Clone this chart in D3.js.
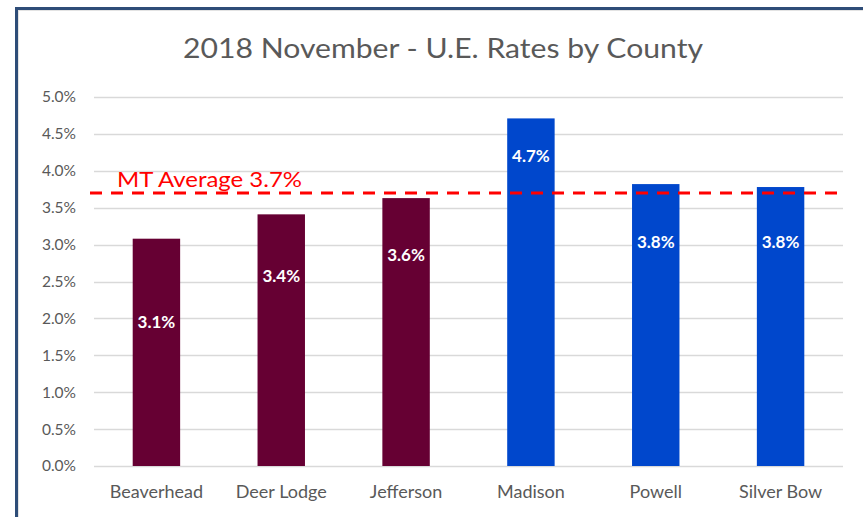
<!DOCTYPE html>
<html>
<head>
<meta charset="utf-8">
<script src="https://cdn.jsdelivr.net/npm/d3@7/dist/d3.min.js"></script>
<style>
  html, body { margin: 0; padding: 0; background: #fff; }
  svg { display: block; }
</style>
</head>
<body>
<svg id="chart" width="863" height="517"></svg>
<script>
// ---- data ----
const counties = ["Beaverhead", "Deer Lodge", "Jefferson", "Madison", "Powell", "Silver Bow"];
const rates = [3.08, 3.41, 3.63, 4.71, 3.82, 3.78];
const barColors = ["#660033", "#660033", "#660033", "#0047CC", "#0047CC", "#0047CC"];
const labelAt = [1.95, 2.57, 2.86, 4.2, 3.03, 3.03]; // value-level where each data label sits
const mtAverage = 3.7;
const yTicks = [0, 0.5, 1, 1.5, 2, 2.5, 3, 3.5, 4, 4.5, 5];
const title = "2018 November - U.E. Rates by County";

// ---- layout ----
const svg = d3.select("#chart");
const font = "Lato, 'Open Sans', sans-serif";
const plot = { left: 94, right: 843, top: 97, bottom: 466 };

// frame
svg.append("rect").attr("x", 18).attr("y", 10).attr("width", 900).attr("height", 600)
  .attr("fill", "none").attr("stroke", "#e3e3e3").attr("stroke-width", 2);
svg.append("rect").attr("x", 16.5).attr("y", 8.5).attr("width", 900).attr("height", 600)
  .attr("fill", "none").attr("stroke", "#2E4D78").attr("stroke-width", 3);

const x = d3.scaleBand().domain(counties).range([plot.left, plot.right]).paddingInner(0.62).paddingOuter(0.31);
const y = d3.scaleLinear().domain([0, 5]).range([plot.bottom, plot.top]);

// title
svg.append("text").attr("x", 443).attr("y", 58).attr("text-anchor", "middle")
  .attr("font-family", font).attr("font-size", 27).attr("fill", "#595959")
  .attr("textLength", 520).attr("lengthAdjust", "spacingAndGlyphs")
  .text(title);

// gridlines
svg.append("g").selectAll("line").data(yTicks).join("line")
  .attr("x1", plot.left).attr("x2", plot.right)
  .attr("y1", d => Math.round(y(d)) + 0.5).attr("y2", d => Math.round(y(d)) + 0.5)
  .attr("stroke", "#D9D9D9").attr("stroke-width", 1.5);

// y axis labels
const yAxis = d3.axisLeft(y).tickValues(yTicks).tickFormat(d => d.toFixed(1) + "%").tickSize(0).tickPadding(0);
const yg = svg.append("g").attr("transform", `translate(${plot.left - 18},0)`).call(yAxis);
yg.select(".domain").remove();
yg.selectAll("text").attr("font-family", font).attr("font-size", 15.5).attr("fill", "#595959");

// bars
svg.append("g").selectAll("rect").data(counties).join("rect")
  .attr("x", d => x(d)).attr("width", x.bandwidth())
  .attr("y", (d, i) => y(rates[i])).attr("height", (d, i) => y(0) - y(rates[i]))
  .attr("fill", (d, i) => barColors[i]);

// bar labels
svg.append("g").selectAll("text").data(counties).join("text")
  .attr("x", d => x(d) + x.bandwidth() / 2)
  .attr("y", (d, i) => y(labelAt[i]))
  .attr("dy", "0.35em")
  .attr("text-anchor", "middle")
  .attr("font-family", font).attr("font-size", 17).attr("font-weight", "bold").attr("fill", "#ffffff")
  .text((d, i) => rates[i].toFixed(1) + "%");

// x axis labels
const xAxis = d3.axisBottom(x).tickSize(0).tickPadding(0);
const xg = svg.append("g").attr("transform", `translate(0,${plot.bottom + 19})`).call(xAxis);
xg.select(".domain").remove();
xg.selectAll("text").attr("font-family", font).attr("font-size", 18).attr("fill", "#595959").attr("dy", "0.71em");

// average line
svg.append("line")
  .attr("x1", 90).attr("x2", plot.right)
  .attr("y1", y(mtAverage)).attr("y2", y(mtAverage))
  .attr("stroke", "#FF0000").attr("stroke-width", 3).attr("stroke-dasharray", "12,9");
svg.append("text").attr("x", 117).attr("y", y(mtAverage) - 6)
  .attr("font-family", font).attr("font-size", 21).attr("fill", "#FF0000")
  .attr("textLength", 185).attr("lengthAdjust", "spacingAndGlyphs")
  .text("MT Average " + mtAverage.toFixed(1) + "%");
</script>
</body>
</html>
